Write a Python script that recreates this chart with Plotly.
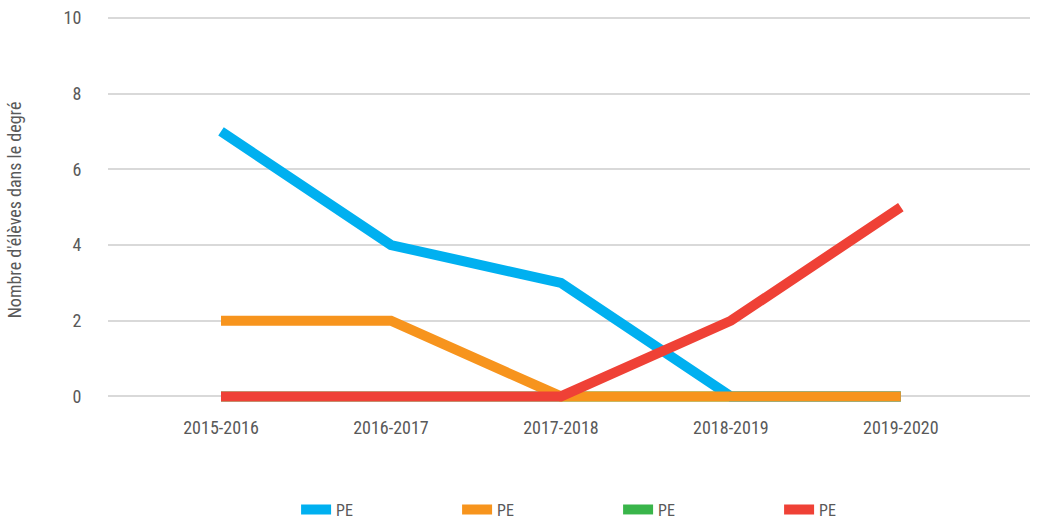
import plotly.graph_objects as go

years = ["2015-2016", "2016-2017", "2017-2018", "2018-2019", "2019-2020"]
blue_vals = [7, 4, 3, 0, 0]
orange_vals = [2, 2, 0, 0, 0]
green_vals = [0, 0, 0, 0, 0]
red_vals = [0, 0, 0, 2, 5]
series_names = ["PE", "PE", "PE", "PE"]
y_ticks = [0, 2, 4, 6, 8, 10]

font_family = "Liberation Sans Narrow, Roboto Condensed, Arial Narrow, Roboto, sans-serif"
text_color = "#595959"

fig = go.Figure()

# green sits underneath the others; legend order is set with legendrank
traces = [
    (green_vals, "#39B54A", series_names[2], 3),
    (blue_vals, "#00B0F0", series_names[0], 1),
    (orange_vals, "#F7941D", series_names[1], 2),
    (red_vals, "#EF4136", series_names[3], 4),
]
for vals, color, name, rank in traces:
    fig.add_trace(go.Scatter(
        x=years, y=vals, name=name, mode="lines",
        line=dict(color=color, width=10),
        legendrank=rank,
    ))

fig.update_layout(
    width=1039, height=519,
    margin=dict(l=108, r=9, t=16, b=115, autoexpand=False),
    paper_bgcolor="white", plot_bgcolor="white",
    font=dict(family=font_family, size=18, color=text_color),
    showlegend=True,
    legend=dict(
        orientation="h", x=0.204, xanchor="left", y=-0.272, yanchor="middle",
        entrywidth=116, font=dict(size=16, color=text_color),
        traceorder="normal",
    ),
    xaxis=dict(
        type="category", range=[-0.665, 4.76],
        showgrid=False, zeroline=False, showline=False,
        ticks="outside", ticklen=7, tickcolor="rgba(0,0,0,0)",
        tickfont=dict(size=18, color=text_color),
    ),
    yaxis=dict(
        range=[-0.2, 10.05], tickvals=y_ticks,
        showgrid=True, gridcolor="#D9D9D9", gridwidth=2,
        zeroline=False, showline=False,
        ticks="outside", ticklen=22, tickcolor="rgba(0,0,0,0)",
        tickfont=dict(size=18, color=text_color),
        title=dict(text="Nombre d'élèves dans le degré", font=dict(size=18, color=text_color), standoff=37),
    ),
)

fig.write_html("out.html")
